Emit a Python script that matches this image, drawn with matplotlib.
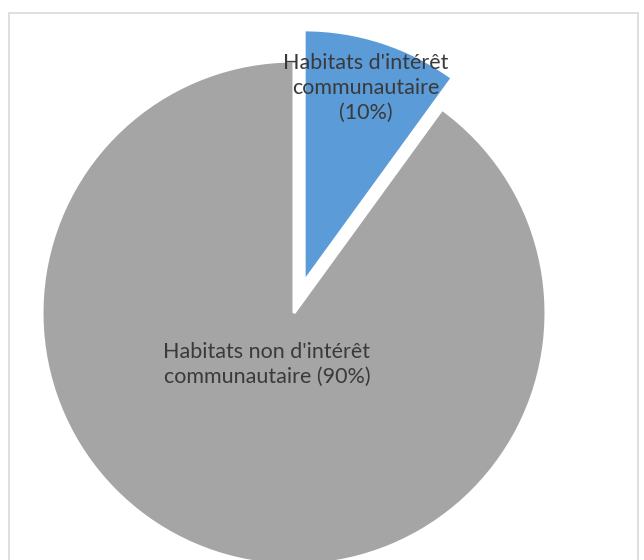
import matplotlib
matplotlib.use("Agg")
import matplotlib.pyplot as plt
from matplotlib.patches import Rectangle

labels = ["Habitats d'intérêt\ncommunautaire\n(10%)",
          "Habitats non d'intérêt\ncommunautaire (90%)"]
shares = [10, 90]
colors = ["#5B9BD8", "#A5A5A5"]
explode_frac = [0.13, 0]

plt.rcParams['font.family'] = ['Lato', 'DejaVu Sans']

W, H = 644, 560
fig = plt.figure(figsize=(W / 100, H / 100), dpi=100)
ax = fig.add_axes([0, 0, 1, 1])

# frame of the chart area (bottom runs off the picture)
fig.patches.append(Rectangle((9 / W, -0.1), 629 / W, 1.1 - 13 / H,
                             transform=fig.transFigure, fill=False,
                             edgecolor="#D9D9D9", lw=1.2))

cx, cy, r = 294, H - 313, 252
# pie's explode is in data units, so scale it by the radius
wedges, _ = ax.pie(shares, colors=colors, explode=[e * r for e in explode_frac],
                   startangle=90, counterclock=False, radius=r, center=(cx, cy),
                   wedgeprops=dict(edgecolor="white", linewidth=2.2),
                   frame=True)
ax.set_xlim(0, W)
ax.set_ylim(0, H)
ax.set_aspect("equal")
ax.axis("off")

ax.text(cx + 72, cy + 225, labels[0], ha="center", va="center",
        fontsize=15.5, color="#3A3A3A", linespacing=1.3)
ax.text(cx - 27, cy - 51, labels[1], ha="center", va="center",
        fontsize=15.5, color="#3A3A3A", linespacing=1.3)

fig.savefig("out.png", dpi=100)
